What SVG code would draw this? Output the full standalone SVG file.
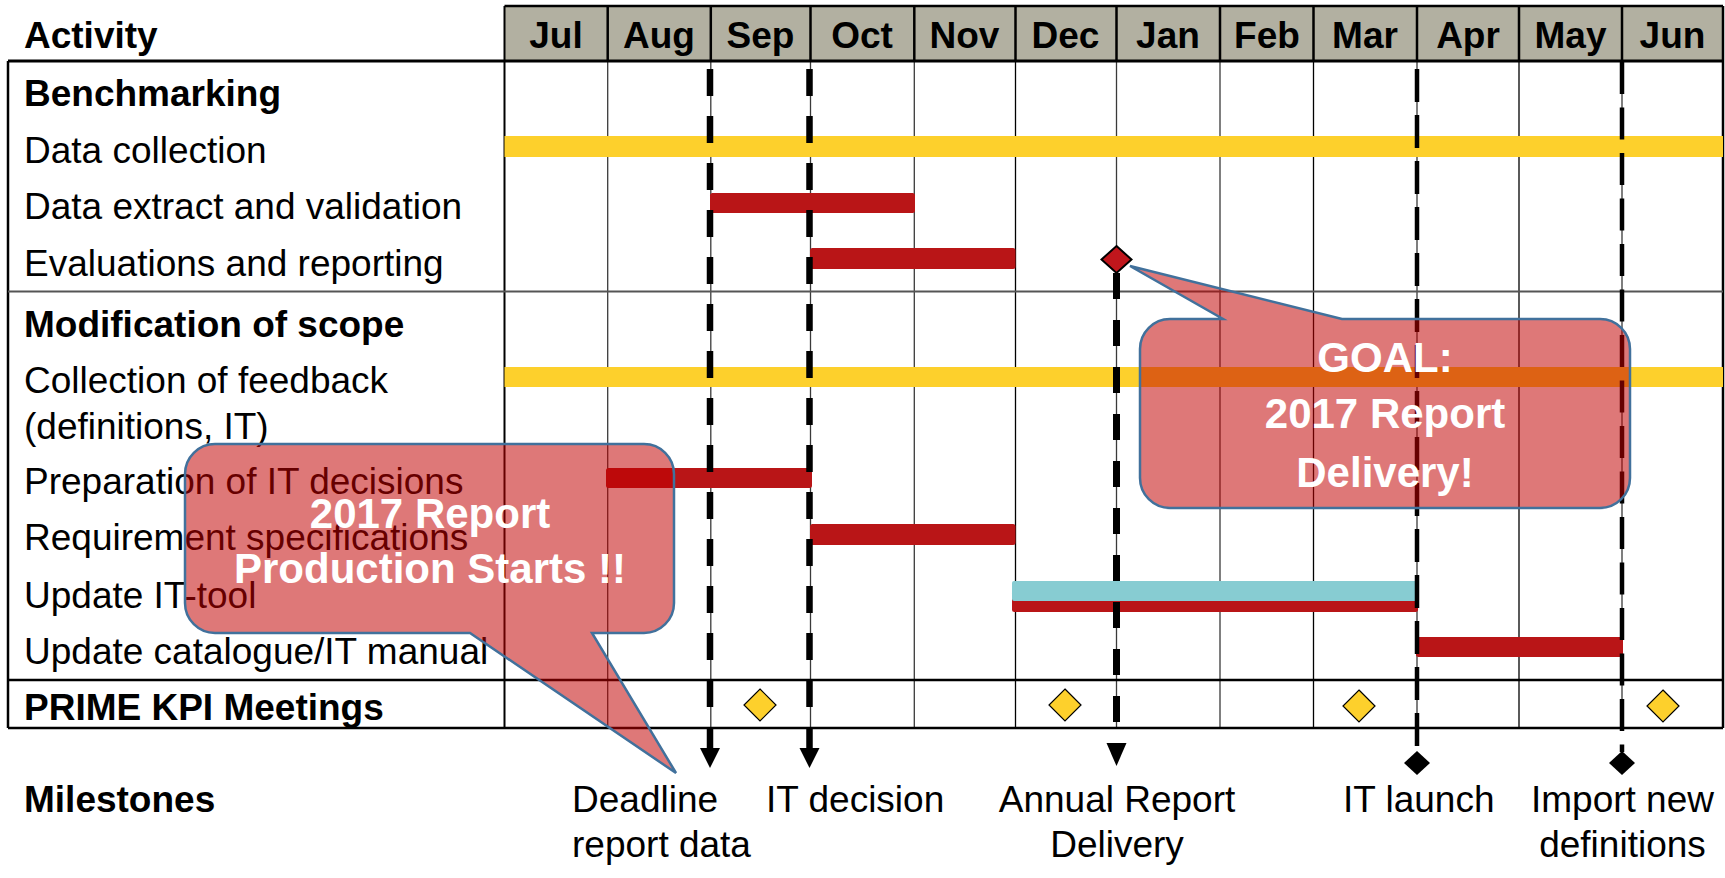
<svg xmlns="http://www.w3.org/2000/svg" width="1725" height="878" viewBox="0 0 1725 878">
<style>
.t{font-family:"Liberation Sans",Arial,sans-serif;font-size:37px;fill:#000}
.b{font-weight:bold}
.m{text-anchor:middle}
.grid{stroke:#3a3a3a;stroke-width:1.3;fill:none}
.bord{stroke:#000;stroke-width:2.5;fill:none}
.yel{fill:#FDD02C}
.red{fill:#B91517}
.cyan{fill:#87CCD2}
.kpi{fill:#FDD02C;stroke:#000;stroke-width:1.2}
.dl{stroke:#000;fill:none}
.call{fill:#C00000;fill-opacity:0.53;stroke:#41719C;stroke-width:2.5}
.ct{font-family:"Liberation Sans",Arial,sans-serif;font-size:42px;font-weight:bold;fill:#fff;text-anchor:middle}
</style>
<rect width="1725" height="878" fill="#fff"/>

<g id="header">
  <rect x="504.5" y="6" width="1218.5" height="55" fill="#B2B0A1"/>
  <g class="bord" stroke-width="2">
    <line x1="504.5" y1="6" x2="1723" y2="6"/>
    <line x1="607.7" y1="6" x2="607.7" y2="61"/>
    <line x1="710.8" y1="6" x2="710.8" y2="61"/>
    <line x1="810.5" y1="6" x2="810.5" y2="61"/>
    <line x1="914.3" y1="6" x2="914.3" y2="61"/>
    <line x1="1015.5" y1="6" x2="1015.5" y2="61"/>
    <line x1="1116.5" y1="6" x2="1116.5" y2="61"/>
    <line x1="1220" y1="6" x2="1220" y2="61"/>
    <line x1="1313.5" y1="6" x2="1313.5" y2="61"/>
    <line x1="1417" y1="6" x2="1417" y2="61"/>
    <line x1="1519" y1="6" x2="1519" y2="61"/>
    <line x1="1622" y1="6" x2="1622" y2="61"/>
  </g>
  <text class="t b" x="24" y="48">Activity</text>
  <g class="t b m">
    <text x="556" y="48">Jul</text>
    <text x="659" y="48">Aug</text>
    <text x="760.5" y="48">Sep</text>
    <text x="862" y="48">Oct</text>
    <text x="964.5" y="48">Nov</text>
    <text x="1065.5" y="48">Dec</text>
    <text x="1168" y="48">Jan</text>
    <text x="1267" y="48">Feb</text>
    <text x="1365" y="48">Mar</text>
    <text x="1468" y="48">Apr</text>
    <text x="1570.5" y="48">May</text>
    <text x="1672.5" y="48">Jun</text>
  </g>
</g>

<g id="grid">
  <g class="grid">
    <line x1="607.7" y1="61" x2="607.7" y2="728"/>
    <line x1="710.8" y1="61" x2="710.8" y2="728"/>
    <line x1="810.5" y1="61" x2="810.5" y2="728"/>
    <line x1="914.3" y1="61" x2="914.3" y2="728"/>
    <line x1="1015.5" y1="61" x2="1015.5" y2="728" stroke="#000"/>
    <line x1="1116.5" y1="61" x2="1116.5" y2="728"/>
    <line x1="1220" y1="61" x2="1220" y2="728"/>
    <line x1="1313.5" y1="61" x2="1313.5" y2="728" stroke="#000"/>
    <line x1="1417" y1="61" x2="1417" y2="728"/>
    <line x1="1519" y1="61" x2="1519" y2="728" stroke="#000"/>
    <line x1="1622" y1="61" x2="1622" y2="728"/>
  </g>
  <g class="bord">
    <line x1="504.5" y1="6" x2="504.5" y2="728" stroke-width="2"/>
    <line x1="1723" y1="6" x2="1723" y2="728"/>
    <line x1="8" y1="61" x2="8" y2="728"/>
    <line x1="8" y1="61" x2="1723" y2="61" stroke-width="3"/>
    <line x1="8" y1="291.5" x2="1723" y2="291.5" stroke="#555" stroke-width="2"/>
    <line x1="8" y1="680" x2="1723" y2="680"/>
    <line x1="8" y1="728" x2="1723" y2="728"/>
  </g>
</g>

<g id="benchmarking">
  <text class="t b" x="24" y="106">Benchmarking</text>
</g>
<g id="data-collection">
  <text class="t" x="24" y="163">Data collection</text>
  <rect class="yel" x="504.5" y="136" width="1218.5" height="21"/>
</g>
<g id="data-extract">
  <text class="t" x="24" y="219">Data extract and validation</text>
  <rect class="red" x="710" y="193" width="205" height="20" rx="2.5"/>
</g>
<g id="evaluations">
  <text class="t" x="24" y="276">Evaluations and reporting</text>
  <rect class="red" x="810" y="248" width="205.5" height="21" rx="2.5"/>
</g>
<g id="modification">
  <text class="t b" x="24" y="337">Modification of scope</text>
</g>
<g id="collection-feedback">
  <text class="t" x="24" y="393">Collection of feedback</text>
  <text class="t" x="24" y="439">(definitions, IT)</text>
  <rect class="yel" x="504.5" y="367" width="1218.5" height="20"/>
</g>
<g id="preparation">
  <text class="t" x="24" y="494">Preparation of IT decisions</text>
  <rect class="red" x="606" y="468" width="206" height="20" rx="2.5"/>
</g>
<g id="requirements">
  <text class="t" x="24" y="550">Requirement specifications</text>
  <rect class="red" x="810" y="524" width="205.5" height="21" rx="2.5"/>
</g>
<g id="update-it-tool">
  <text class="t" x="24" y="608">Update IT-tool</text>
  <rect class="red" x="1012" y="591" width="406" height="21" rx="2.5"/>
  <rect class="cyan" x="1012" y="581" width="406" height="20" rx="2"/>
</g>
<g id="update-catalogue">
  <text class="t" x="24" y="664">Update catalogue/IT manual</text>
  <rect class="red" x="1416" y="637" width="207" height="20" rx="2.5"/>
</g>
<g id="prime-kpi">
  <text class="t b" x="24" y="720">PRIME KPI Meetings</text>
  <polygon class="kpi" points="760,689 776,705 760,721 744,705"/>
  <polygon class="kpi" points="1065,689 1081,705 1065,721 1049,705"/>
  <polygon class="kpi" points="1359,690 1375,706 1359,722 1343,706"/>
  <polygon class="kpi" points="1663,690 1679,706 1663,722 1647,706"/>
</g>

<g id="connectors">
  <line class="dl" x1="710" y1="69" x2="710" y2="750" stroke-width="6.5" stroke-dasharray="27 20"/>
  <polygon points="700,748 720,748 710,768" fill="#000"/>
  <line class="dl" x1="809.5" y1="69" x2="809.5" y2="750" stroke-width="6.5" stroke-dasharray="27 20"/>
  <polygon points="799.5,748 819.5,748 809.5,768" fill="#000"/>
  <line class="dl" x1="1116.5" y1="273" x2="1116.5" y2="743" stroke-width="7" stroke-dasharray="26 21"/>
  <polygon points="1106.5,743 1126.5,743 1116.5,766" fill="#000"/>
  <line class="dl" x1="1417" y1="69" x2="1417" y2="752" stroke-width="4.5" stroke-dasharray="33 13"/>
  <polygon points="1417,751 1430,763 1417,775 1404,763" fill="#000"/>
  <line class="dl" x1="1622" y1="62" x2="1622" y2="752" stroke-width="4.5" stroke-dasharray="32 13.5"/>
  <polygon points="1622,751 1635,763 1622,775 1609,763" fill="#000"/>
</g>

<g id="annual-report-diamond">
  <polygon points="1116.5,246 1131.5,259.5 1116.5,273 1101.5,259.5" fill="#C0161C" stroke="#000" stroke-width="2"/>
</g>

<g id="milestones">
  <text class="t b" x="24" y="812">Milestones</text>
  <text class="t" x="572" y="812">Deadline</text>
  <text class="t" x="572" y="857">report data</text>
  <text class="t" x="766" y="812">IT decision</text>
  <text class="t m" x="1117" y="812">Annual Report</text>
  <text class="t m" x="1117" y="857">Delivery</text>
  <text class="t" x="1343" y="812">IT launch</text>
  <text class="t m" x="1622.5" y="812">Import new</text>
  <text class="t m" x="1622.5" y="857">definitions</text>
</g>

<g id="callout-start">
  <path class="call" d="M215,444 H644 A30,30 0 0 1 674,474 V603 A30,30 0 0 1 644,633 H592 L676,773 L470,633 H215 A30,30 0 0 1 185,603 V474 A30,30 0 0 1 215,444 Z"/>
  <text class="ct" x="430" y="528">2017 Report</text>
  <text class="ct" x="430" y="583">Production Starts !!</text>
</g>

<g id="callout-goal">
  <path class="call" d="M1170,319 H1223 L1130,266 L1342,319 H1600 A30,30 0 0 1 1630,349 V478 A30,30 0 0 1 1600,508 H1170 A30,30 0 0 1 1140,478 V349 A30,30 0 0 1 1170,319 Z"/>
  <text class="ct" x="1385" y="372">GOAL:</text>
  <text class="ct" x="1385" y="428">2017 Report</text>
  <text class="ct" x="1385" y="487">Delivery!</text>
</g>
</svg>
